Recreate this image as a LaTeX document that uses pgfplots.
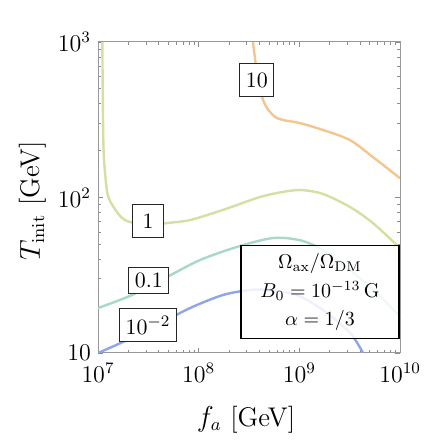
\documentclass[border=0pt]{standalone}
\usepackage{pgfplots}
\pgfplotsset{compat=1.18}

\definecolor{corange}{HTML}{F3C68F}
\definecolor{cgreen}{HTML}{D3E0A2}
\definecolor{cteal}{HTML}{A6D9C6}
\definecolor{cblue}{HTML}{8FA5E8}

\begin{document}
\begin{tikzpicture}
\begin{axis}[
  scale only axis,
  width=151pt, height=155.5pt,
  xmode=log, ymode=log,
  xmin=1e7, xmax=1e10,
  ymin=10, ymax=1000,
  xtick={1e7,1e8,1e9,1e10},
  ytick={10,100,1000},
  yticklabels={$10$,$10^2$,$10^3$},
  tick align=inside,
  major tick length=2.6pt,
  minor tick length=1.5pt,
  every tick/.style={black!45, line width=0.4pt},
  axis line style={black!40, line width=0.5pt},
  tick label style={font=\fontsize{11.5}{13}\selectfont},
  xticklabel style={yshift=-1.5pt},
  label style={font=\fontsize{13.5}{16}\selectfont},
  xlabel={$f_a$ [GeV]},
  ylabel={$T_{\rm init}$ [GeV]},
  xlabel style={at={(axis description cs:0.49,-0.215)}, anchor=center},
  ylabel style={at={(axis description cs:-0.215,0.49)}, anchor=center},
  clip=true,
]

% Omega_ax/Omega_DM = 10
\addplot[corange, line width=1.2pt, smooth, tension=0.5] coordinates {
(3.46e8,1000) (3.88e8,570) (4.26e8,443) (4.76e8,377) (5.73e8,330)
(6.87e8,315) (1.01e9,301) (1.71e9,272) (3.18e9,234) (5.38e9,182) (1e10,133)
};

% = 1
\addplot[cgreen, line width=1.2pt, smooth, tension=0.5] coordinates {
(1.104e7,1000) (1.129e7,234) (1.175e7,144) (1.266e7,100.7) (1.570e7,79.4)
(1.853e7,71.6) (2.3e7,68.5) (3.28e7,66.5) (4.84e7,68.5) (8.2e7,71.6)
(1.742e8,83.2) (3.79e8,99.3) (6.0e8,106.9) (1.014e9,111.7) (1.714e9,105.4)
(3.18e9,86.9) (5.38e9,68.5) (1e10,47.3)
};

% = 0.1
\addplot[cteal, line width=1.2pt, smooth, tension=0.5] coordinates {
(1e7,19.45) (2.178e7,23.6) (4.84e7,30.8) (1.03e8,39.6) (2.40e8,48.1)
(4.76e8,54.1) (6.87e8,55.0) (1.087e9,52.5) (1.714e9,45.9) (3.18e9,34.2)
(5.90e9,24.3) (1e10,17.1)
};

% = 0.01
\addplot[cblue, line width=1.2pt, smooth, tension=0.5] coordinates {
(1e7,10) (1.77e7,11.78) (3.855e7,15.1) (8.2e7,19.45) (1.742e8,23.6)
(3.23e8,25.4) (5.11e8,25.4) (9.46e8,23.6) (1.714e9,18.9) (3.18e9,13.5)
(4.29e9,10)
};

\tikzset{lbl/.style={draw=black!85, fill=white, line width=0.5pt,
  font=\fontsize{11}{13}\selectfont, inner sep=3pt, minimum height=16.5pt, minimum width=15.5pt}}
\node[lbl] at (axis cs:3.79e8,570) {$10$};
\node[lbl] at (axis cs:3.14e7,70.6) {$1$};
\node[lbl, minimum height=13pt] at (axis cs:3.2e7,29.4) {$0.1$};
\node[lbl] at (axis cs:3.14e7,15.1) {$10^{-2}$};

\node[draw=black, line width=0.6pt, fill=white, fill opacity=0.85, text opacity=1,
  minimum width=79pt, minimum height=46.5pt, align=center, inner sep=2pt,
  font=\fontsize{10}{14.25}\selectfont]
  at (rel axis cs:0.735,0.195)
  {$\Omega_{\rm ax}/\Omega_{\rm DM}$\\ $B_0=10^{-13}\,{\rm G}$\\ $\alpha=1/3$\hspace{13pt}};
\end{axis}
\pgfresetboundingbox
\path (current axis.south west) ++(-49pt,-45.5pt) rectangle ++(212pt,222pt);
\end{tikzpicture}
\end{document}
